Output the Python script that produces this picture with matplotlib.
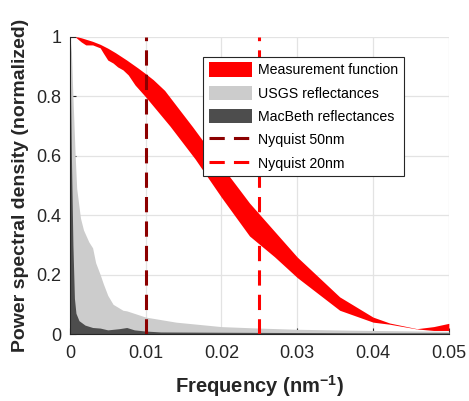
import matplotlib
matplotlib.use("Agg")
import matplotlib.pyplot as plt
import numpy as np

plt.rcParams['font.family'] = ['Liberation Sans', 'DejaVu Sans']
plt.rcParams['mathtext.fontset'] = 'custom'
plt.rcParams['mathtext.bf'] = 'Liberation Sans:bold'
plt.rcParams['mathtext.rm'] = 'Liberation Sans:bold'

# measurement function band (upper / lower edge)
meas_up_x = [0, 0.001, 0.0015, 0.002, 0.003, 0.004, 0.005, 0.006, 0.0075, 0.009,
             0.010, 0.011, 0.0125, 0.014, 0.0162, 0.0194, 0.0224, 0.0237, 0.030,
             0.0356, 0.040, 0.0422, 0.0458, 0.048, 0.050]
meas_up_y = [1.0, 1.0, 0.997, 0.993, 0.985, 0.975, 0.962, 0.947, 0.922, 0.895,
             0.876, 0.856, 0.82, 0.77, 0.697, 0.586, 0.485, 0.441, 0.259,
             0.125, 0.057, 0.037, 0.018, 0.025, 0.036]
meas_lo_x = [0, 0.0007, 0.0015, 0.0021, 0.003, 0.004, 0.0044, 0.005, 0.0057, 0.0063,
             0.007, 0.0077, 0.0086, 0.010, 0.0132, 0.0165, 0.020, 0.0237, 0.027,
             0.030, 0.0356, 0.040, 0.0422, 0.0458, 0.048, 0.050]
meas_lo_y = [1.0, 1.0, 0.983, 0.973, 0.973, 0.963, 0.946, 0.922, 0.912, 0.899,
             0.889, 0.872, 0.838, 0.798, 0.70, 0.59, 0.46, 0.33, 0.26,
             0.19, 0.08, 0.04, 0.033, 0.017, 0.012, 0.012]

# USGS reflectances
usgs_x = [0, 0.0002, 0.0004, 0.0007, 0.0009, 0.0014, 0.0018, 0.0025, 0.003, 0.0034,
          0.004, 0.0044, 0.005, 0.0057, 0.007, 0.0075, 0.010, 0.014, 0.020, 0.025,
          0.030, 0.037, 0.0435, 0.050]
usgs_y = [1.0, 0.95, 0.80, 0.60, 0.49, 0.39, 0.35, 0.31, 0.29, 0.24,
          0.20, 0.17, 0.13, 0.10, 0.08, 0.078, 0.057, 0.04, 0.025, 0.02,
          0.016, 0.013, 0.011, 0.009]

# MacBeth reflectances
mac_x = [0, 0.0002, 0.0004, 0.0006, 0.0008, 0.0012, 0.002, 0.003, 0.004, 0.005,
         0.0065, 0.0075, 0.0085, 0.010, 0.012, 0.020, 0.030, 0.040, 0.050]
mac_y = [1.0, 0.6, 0.3, 0.12, 0.07, 0.045, 0.03, 0.022, 0.02, 0.014,
         0.018, 0.022, 0.014, 0.01, 0.007, 0.006, 0.005, 0.004, 0.004]

nyq50 = 0.01
nyq20 = 0.025

fig = plt.figure(figsize=(4.69, 4.01), dpi=100)
ax = fig.add_axes([0.149, 0.167, 0.808, 0.741])

xx = np.union1d(meas_up_x, meas_lo_x)
up = np.interp(xx, meas_up_x, meas_up_y)
lo = np.interp(xx, meas_lo_x, meas_lo_y)

ax.fill_between(usgs_x, 0, usgs_y, color='#cccccc', lw=0, label='USGS reflectances')
ax.fill_between(mac_x, 0, mac_y, color='#4d4d4d', lw=0, label='MacBeth reflectances')
ax.fill_between(xx, lo, up, color='#ff0000', lw=0, label='Measurement function')
ax.axvline(nyq50, color='#8c0000', lw=2.2, dashes=(5, 3), label='Nyquist 50nm')
ax.axvline(nyq20, color='#ff0000', lw=2.2, dashes=(5, 3), label='Nyquist 20nm')

ax.set_xlim(0, 0.05)
ax.set_ylim(0, 1)
ax.set_xticks([0, 0.01, 0.02, 0.03, 0.04, 0.05])
ax.set_xticklabels(['0', '0.01', '0.02', '0.03', '0.04', '0.05'])
ax.set_yticks([0, 0.2, 0.4, 0.6, 0.8, 1])
ax.set_yticklabels(['0', '0.2', '0.4', '0.6', '0.8', '1'])
ax.tick_params(direction='in', length=4, labelsize=13, colors='#262626')
ax.tick_params(axis='x', pad=8)
ax.tick_params(axis='y', pad=6)
ax.grid(True, color='#e3e3e3', lw=0.9)
ax.set_axisbelow(True)
for s in ['top', 'right']:
    ax.spines[s].set_visible(False)
for s in ['left', 'bottom']:
    ax.spines[s].set_color('#262626')

ax.set_xlabel(r'Frequency (nm$\mathbf{^{-1}}$)', fontsize=14.5, fontweight='bold',
              color='#262626', labelpad=8)
ax.set_ylabel('Power spectral density (normalized)', fontsize=14, fontweight='bold',
              color='#262626', labelpad=5)

h, l = ax.get_legend_handles_labels()
order = [2, 0, 1, 3, 4]
leg = ax.legend([h[i] for i in order], [l[i] for i in order], loc='upper left',
                bbox_to_anchor=(0.351, 0.933), fontsize=10.2, fancybox=False,
                edgecolor='#262626', framealpha=1, handlelength=3.1, handleheight=1.15,
                labelspacing=0.6, borderpad=0.4, handletextpad=0.4, borderaxespad=0)
leg.get_frame().set_linewidth(0.8)

fig.savefig('out.png', dpi=100)
